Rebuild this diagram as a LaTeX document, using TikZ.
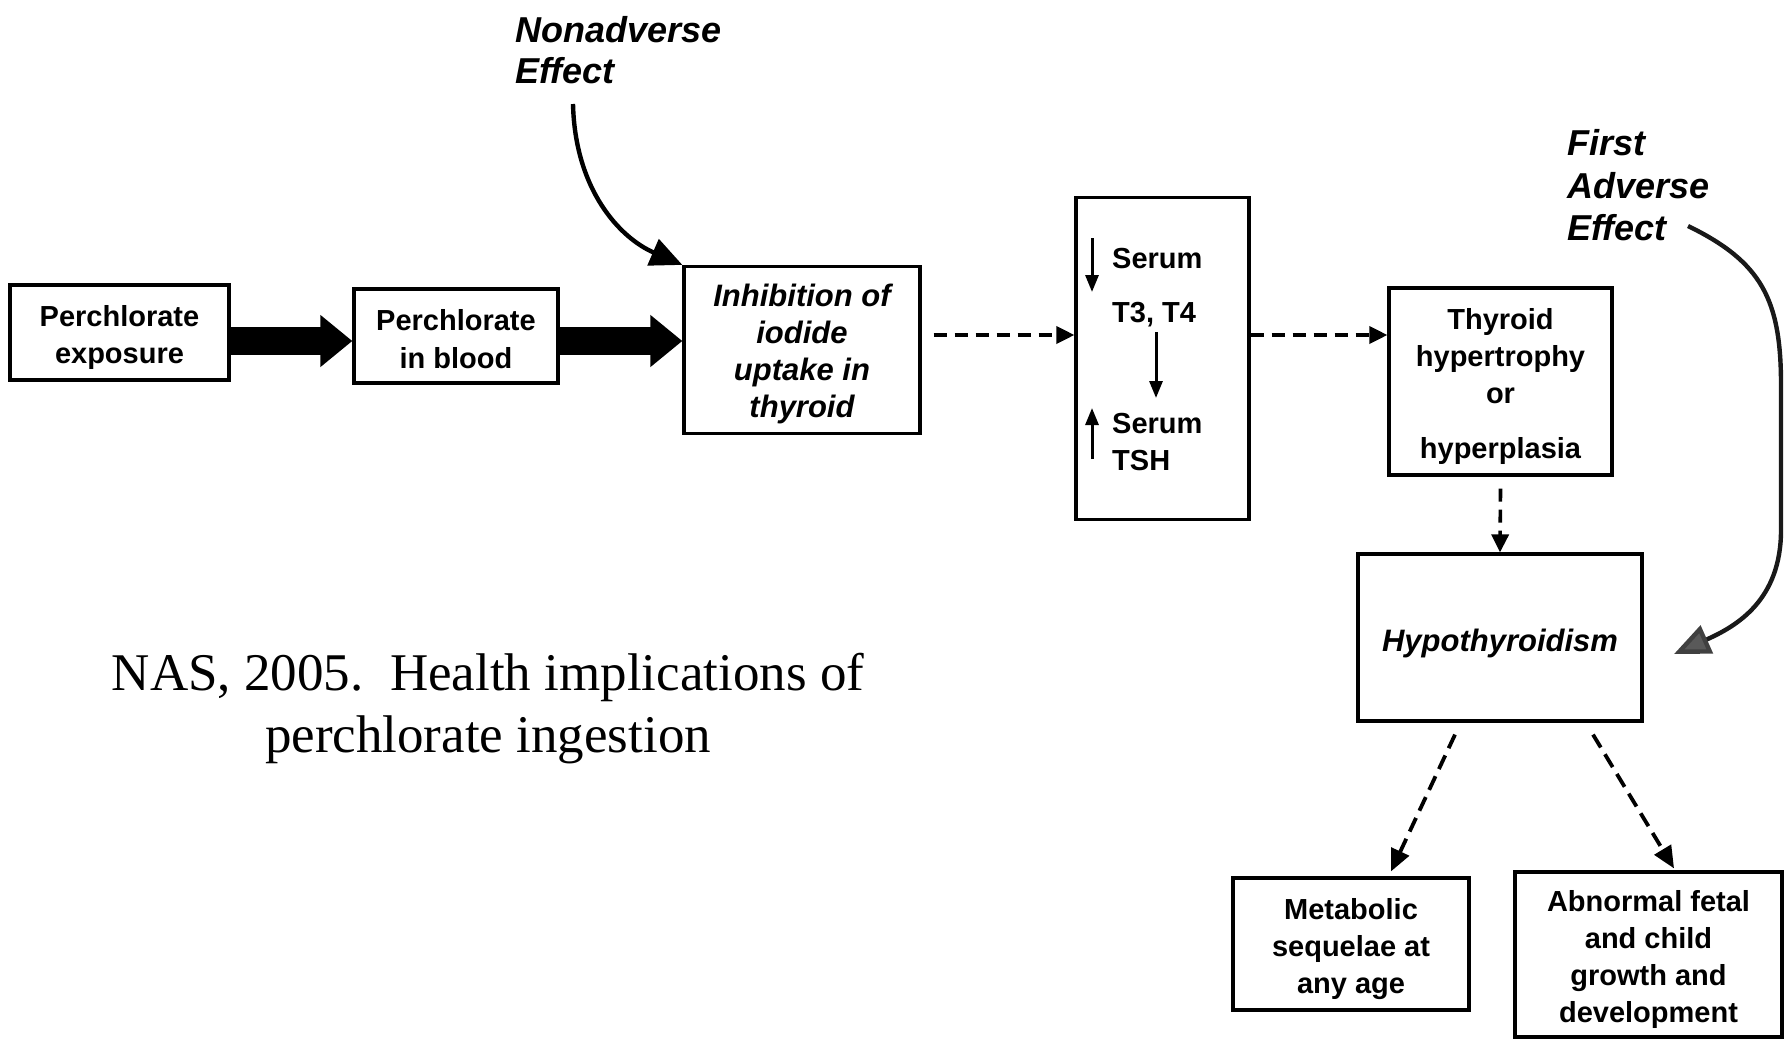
\documentclass[tikz,border=0pt]{standalone}
\usepackage{fontspec}
\setmainfont{Liberation Sans}
\newfontfamily\citefont{Liberation Serif}
\usetikzlibrary{arrows.meta,calc}

\tikzset{
  frame/.style={draw, line width=3.2pt, inner sep=0pt},
  boxtext/.style={inner sep=0pt, align=center,
    font=\bfseries\fontsize{29}{37.3}\selectfont},
  iboxtext/.style={boxtext, font=\bfseries\itshape\fontsize{31}{37.3}\selectfont},
  effectlabel/.style={font=\bfseries\itshape\fontsize{36}{42}\selectfont,
    anchor=base west, inner sep=0pt},
  serumtext/.style={font=\bfseries\fontsize{29}{36}\selectfont,
    anchor=base west, inner sep=0pt},
  citetext/.style={font=\citefont\fontsize{53}{62}\selectfont,
    anchor=base, inner sep=0pt},
  bigarrow/.style={line width=28pt, -{Triangle[length=32pt,width=50pt]}},
  dasharrow/.style={line width=3.6pt, dash pattern=on 13pt off 8pt,
    -{Triangle[length=18pt,width=17pt]}},
  slantarrow/.style={line width=3.8pt, dash pattern=on 15pt off 8pt,
    -{Triangle[length=22pt,width=19pt]}},
  thinarrow/.style={line width=3pt, -{Triangle[length=17pt,width=13pt]}},
  curvearrow/.style={line width=4.4pt, -{Triangle[length=32pt,width=28pt]}},
}

\begin{document}
\begin{tikzpicture}[x=1pt,y=-1pt]
\useasboundingbox (0,0) rectangle (1787,1039);

% box frames
\node[frame, minimum width=219pt, minimum height=95pt] (b1) at (119.5,332.5) {};
\node[frame, minimum width=204pt, minimum height=94pt] (b2) at (456,336) {};
\node[frame, minimum width=236pt, minimum height=167pt] (b3) at (802,350) {};
\node[frame, minimum width=173pt, minimum height=322pt] (b4) at (1162.5,358.5) {};
\node[frame, minimum width=223pt, minimum height=187pt] (b5) at (1500.5,381.5) {};
\node[frame, minimum width=284pt, minimum height=167pt] (b6) at (1500,637.5) {};
\node[frame, minimum width=236pt, minimum height=132pt] (b7) at (1351,944) {};
\node[frame, minimum width=267pt, minimum height=165pt] (b8) at (1648.5,954.5) {};

% box texts
\node[boxtext] (b1t) at ($(b1)+(0,5)$) {Perchlorate\\exposure};
\node[boxtext] (b2t) at ($(b2)+(0,3)$) {Perchlorate\\in blood};
\node[iboxtext] (b3t) at ($(b3)+(0,4)$) {Inhibition of\\iodide\\uptake in\\thyroid};
\node[boxtext] (b5t) at ($(b5)+(0,5)$) {Thyroid\\hypertrophy\\or\\[18pt]hyperplasia};
\node[iboxtext] (b6t) at ($(b6)+(0,6)$) {Hypothyroidism};
\node[boxtext] (b7t) at ($(b7)+(0,5)$) {Metabolic\\sequelae at\\any age};
\node[boxtext] (b8t) at ($(b8)+(0,5)$) {Abnormal fetal\\and child\\growth and\\development};

% contents of the serum box
\node[serumtext] (s1) at (1112,268) {Serum};
\node[serumtext] (s2) at (1112,322) {T3, T4};
\node[serumtext] (s3) at (1112,433) {Serum};
\node[serumtext] (s4) at (1112,470) {TSH};
\coordinate (t3top) at (1092,238);
\coordinate (t3bot) at (1092,292);
\coordinate (midtop) at (1156,332);
\coordinate (midbot) at (1156,398);
\coordinate (tshbot) at (1092,459);
\coordinate (tshtop) at (1092,408);
\draw[thinarrow] (t3top) -- (t3bot);
\draw[thinarrow] (midtop) -- (midbot);
\draw[thinarrow] (tshbot) -- (tshtop);

% effect labels
\node[effectlabel] (n1) at (515,42) {Nonadverse};
\node[effectlabel] (n2) at (515,83) {Effect};
\node[effectlabel] (f1) at (1567,155) {First};
\node[effectlabel] (f2) at (1567,198) {Adverse};
\node[effectlabel] (f3) at (1567,240) {Effect};

% citation
\node[citetext] (c1) at (488,690) {NAS, 2005.~~Health implications of};
\node[citetext] (c2) at (488,752) {perchlorate ingestion};

% solid block arrows
\coordinate (arrowrow) at (0,341);
\draw[bigarrow] (b1.east |- arrowrow) -- (b2.west |- arrowrow);
\draw[bigarrow] (b2.east |- arrowrow) -- (b3.west |- arrowrow);

% dashed connectors
\coordinate (dashrow) at (0,335);
\draw[dasharrow] ([xshift=12pt]b3.east |- dashrow) -- (b4.west |- dashrow);
\draw[dasharrow] (b4.east |- dashrow) -- (b5.west |- dashrow);
\draw[dasharrow] ([yshift=-12pt]b5.south) -- (b6.north);
\draw[slantarrow] ($(b6.south)+(-45,12)$) -- ($(b7.north)+(40,-5)$);
\draw[slantarrow] ($(b6.south)+(93,12)$) -- ($(b8.north)+(25.5,-2)$);

% curved pointer arrows
\coordinate (nstart) at (573,104);
\draw[curvearrow] (nstart) .. controls (575,190) and (620,238) .. (b3.north west);

\coordinate (fstart) at (1688,226);
\coordinate (fend) at (1674,654);
\draw[line width=4.4pt, black!90,
  -{Triangle[length=36pt,width=30pt,fill=black!65,color=black!75]}]
  (fstart) .. controls (1762,262) and (1781,300) .. (1781,385)
  -- (1781,530) .. controls (1781,600) and (1737,626) .. (fend);
\end{tikzpicture}
\end{document}
